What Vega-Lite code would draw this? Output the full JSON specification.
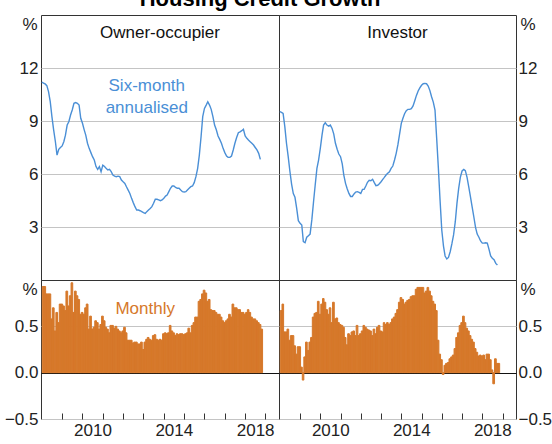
{
  "$schema": "https://vega.github.io/schema/vega-lite/v6.json",
  "padding": {"left": 3, "top": -13, "right": 0, "bottom": 0},
  "background": "white",
  "title": {"text": "Housing Credit Growth", "fontSize": 22, "fontWeight": "bold", "font": "Liberation Sans", "color": "#000", "anchor": "middle", "offset": 4, "dx": -18},
  "config": {
    "font": "Liberation Sans",
    "view": {"stroke": "#333", "strokeWidth": 1},
    "axis": {"labelFont": "Liberation Sans", "labelFontSize": 17, "labelColor": "#222", "titleFont": "Liberation Sans", "titleFontSize": 17, "titleFontWeight": "normal", "titleColor": "#222", "domain": false, "ticks": false, "gridColor": "#c4c4c4", "gridWidth": 1}
  },
  "datasets": {
    "d": [
      {"date":"2008-01-01","oo6":11.2,"inv6":9.53,"oom":0.93,"invm":0.67},
      {"date":"2008-02-01","oo6":11.15,"inv6":9.49,"oom":0.93,"invm":0.74},
      {"date":"2008-03-01","oo6":11.1,"inv6":9.43,"oom":0.85,"invm":0.44},
      {"date":"2008-04-01","oo6":11.0,"inv6":8.68,"oom":0.85,"invm":0.44},
      {"date":"2008-05-01","oo6":10.66,"inv6":7.74,"oom":0.85,"invm":0.47},
      {"date":"2008-06-01","oo6":10.1,"inv6":6.98,"oom":0.58,"invm":0.35},
      {"date":"2008-07-01","oo6":9.25,"inv6":6.17,"oom":0.70,"invm":0.40},
      {"date":"2008-08-01","oo6":8.5,"inv6":5.43,"oom":0.45,"invm":0.40},
      {"date":"2008-09-01","oo6":7.84,"inv6":4.89,"oom":0.65,"invm":0.29},
      {"date":"2008-10-01","oo6":7.07,"inv6":4.68,"oom":0.54,"invm":0.20},
      {"date":"2008-11-01","oo6":7.4,"inv6":4.06,"oom":0.74,"invm":0.28},
      {"date":"2008-12-01","oo6":7.5,"inv6":3.36,"oom":0.74,"invm":0.28},
      {"date":"2009-01-01","oo6":7.59,"inv6":3.21,"oom":0.72,"invm":0.06},
      {"date":"2009-02-01","oo6":7.84,"inv6":3.11,"oom":0.67,"invm":-0.08},
      {"date":"2009-03-01","oo6":8.2,"inv6":2.17,"oom":0.88,"invm":0.17},
      {"date":"2009-04-01","oo6":8.77,"inv6":2.11,"oom":0.72,"invm":0.33},
      {"date":"2009-05-01","oo6":8.96,"inv6":2.42,"oom":0.83,"invm":0.24},
      {"date":"2009-06-01","oo6":9.34,"inv6":2.51,"oom":0.97,"invm":0.33},
      {"date":"2009-07-01","oo6":9.62,"inv6":2.6,"oom":0.65,"invm":0.38},
      {"date":"2009-08-01","oo6":10.0,"inv6":3.4,"oom":0.88,"invm":0.60},
      {"date":"2009-09-01","oo6":10.04,"inv6":4.43,"oom":0.83,"invm":0.64},
      {"date":"2009-10-01","oo6":10.0,"inv6":5.38,"oom":0.79,"invm":0.65},
      {"date":"2009-11-01","oo6":9.9,"inv6":6.32,"oom":0.63,"invm":0.77},
      {"date":"2009-12-01","oo6":9.15,"inv6":6.79,"oom":0.65,"invm":0.63},
      {"date":"2010-01-01","oo6":8.87,"inv6":7.45,"oom":0.63,"invm":0.74},
      {"date":"2010-02-01","oo6":8.5,"inv6":8.2,"oom":0.70,"invm":0.80},
      {"date":"2010-03-01","oo6":8.2,"inv6":8.77,"oom":0.74,"invm":0.76},
      {"date":"2010-04-01","oo6":7.74,"inv6":8.9,"oom":0.47,"invm":0.68},
      {"date":"2010-05-01","oo6":7.45,"inv6":8.77,"oom":0.61,"invm":0.63},
      {"date":"2010-06-01","oo6":7.21,"inv6":8.71,"oom":0.47,"invm":0.70},
      {"date":"2010-07-01","oo6":6.98,"inv6":8.77,"oom":0.49,"invm":0.54},
      {"date":"2010-08-01","oo6":6.79,"inv6":8.58,"oom":0.56,"invm":0.76},
      {"date":"2010-09-01","oo6":6.42,"inv6":8.26,"oom":0.54,"invm":0.58},
      {"date":"2010-10-01","oo6":6.26,"inv6":7.74,"oom":0.47,"invm":0.59},
      {"date":"2010-11-01","oo6":6.42,"inv6":7.4,"oom":0.52,"invm":0.54},
      {"date":"2010-12-01","oo6":6.13,"inv6":7.13,"oom":0.61,"invm":0.52},
      {"date":"2011-01-01","oo6":6.5,"inv6":6.98,"oom":0.56,"invm":0.51},
      {"date":"2011-02-01","oo6":6.42,"inv6":6.57,"oom":0.49,"invm":0.49},
      {"date":"2011-03-01","oo6":6.32,"inv6":5.94,"oom":0.47,"invm":0.38},
      {"date":"2011-04-01","oo6":6.23,"inv6":5.47,"oom":0.43,"invm":0.30},
      {"date":"2011-05-01","oo6":6.26,"inv6":5.17,"oom":0.51,"invm":0.42},
      {"date":"2011-06-01","oo6":6.13,"inv6":4.9,"oom":0.51,"invm":0.40},
      {"date":"2011-07-01","oo6":5.94,"inv6":4.73,"oom":0.48,"invm":0.44},
      {"date":"2011-08-01","oo6":5.88,"inv6":4.73,"oom":0.50,"invm":0.45},
      {"date":"2011-09-01","oo6":5.85,"inv6":4.87,"oom":0.47,"invm":0.40},
      {"date":"2011-10-01","oo6":5.88,"inv6":4.98,"oom":0.45,"invm":0.51},
      {"date":"2011-11-01","oo6":5.85,"inv6":5.0,"oom":0.43,"invm":0.40},
      {"date":"2011-12-01","oo6":5.66,"inv6":4.96,"oom":0.45,"invm":0.42},
      {"date":"2012-01-01","oo6":5.56,"inv6":4.9,"oom":0.49,"invm":0.45},
      {"date":"2012-02-01","oo6":5.47,"inv6":5.13,"oom":0.43,"invm":0.51},
      {"date":"2012-03-01","oo6":5.28,"inv6":5.13,"oom":0.35,"invm":0.49},
      {"date":"2012-04-01","oo6":5.09,"inv6":5.32,"oom":0.35,"invm":0.47},
      {"date":"2012-05-01","oo6":4.9,"inv6":5.53,"oom":0.35,"invm":0.46},
      {"date":"2012-06-01","oo6":4.62,"inv6":5.64,"oom":0.32,"invm":0.45},
      {"date":"2012-07-01","oo6":4.38,"inv6":5.62,"oom":0.33,"invm":0.40},
      {"date":"2012-08-01","oo6":4.15,"inv6":5.7,"oom":0.33,"invm":0.47},
      {"date":"2012-09-01","oo6":3.96,"inv6":5.51,"oom":0.31,"invm":0.42},
      {"date":"2012-10-01","oo6":3.96,"inv6":5.34,"oom":0.31,"invm":0.49},
      {"date":"2012-11-01","oo6":3.92,"inv6":5.36,"oom":0.33,"invm":0.51},
      {"date":"2012-12-01","oo6":3.87,"inv6":5.45,"oom":0.25,"invm":0.45},
      {"date":"2013-01-01","oo6":3.81,"inv6":5.56,"oom":0.33,"invm":0.44},
      {"date":"2013-02-01","oo6":3.77,"inv6":5.7,"oom":0.36,"invm":0.54},
      {"date":"2013-03-01","oo6":3.87,"inv6":5.81,"oom":0.38,"invm":0.52},
      {"date":"2013-04-01","oo6":3.96,"inv6":5.94,"oom":0.36,"invm":0.54},
      {"date":"2013-05-01","oo6":4.05,"inv6":6.04,"oom":0.35,"invm":0.52},
      {"date":"2013-06-01","oo6":4.15,"inv6":6.13,"oom":0.40,"invm":0.54},
      {"date":"2013-07-01","oo6":4.34,"inv6":6.32,"oom":0.41,"invm":0.58},
      {"date":"2013-08-01","oo6":4.57,"inv6":6.45,"oom":0.36,"invm":0.60},
      {"date":"2013-09-01","oo6":4.57,"inv6":6.79,"oom":0.35,"invm":0.64},
      {"date":"2013-10-01","oo6":4.53,"inv6":7.17,"oom":0.36,"invm":0.68},
      {"date":"2013-11-01","oo6":4.49,"inv6":7.66,"oom":0.35,"invm":0.76},
      {"date":"2013-12-01","oo6":4.53,"inv6":8.26,"oom":0.42,"invm":0.81},
      {"date":"2014-01-01","oo6":4.62,"inv6":8.87,"oom":0.43,"invm":0.79},
      {"date":"2014-02-01","oo6":4.75,"inv6":9.17,"oom":0.42,"invm":0.74},
      {"date":"2014-03-01","oo6":4.81,"inv6":9.41,"oom":0.43,"invm":0.76},
      {"date":"2014-04-01","oo6":5.0,"inv6":9.58,"oom":0.51,"invm":0.78},
      {"date":"2014-05-01","oo6":5.19,"inv6":9.66,"oom":0.45,"invm":0.79},
      {"date":"2014-06-01","oo6":5.32,"inv6":9.66,"oom":0.43,"invm":0.82},
      {"date":"2014-07-01","oo6":5.32,"inv6":9.7,"oom":0.40,"invm":0.83},
      {"date":"2014-08-01","oo6":5.24,"inv6":9.85,"oom":0.42,"invm":0.83},
      {"date":"2014-09-01","oo6":5.19,"inv6":10.15,"oom":0.41,"invm":0.90},
      {"date":"2014-10-01","oo6":5.19,"inv6":10.45,"oom":0.42,"invm":0.92},
      {"date":"2014-11-01","oo6":5.09,"inv6":10.7,"oom":0.42,"invm":0.92},
      {"date":"2014-12-01","oo6":5.0,"inv6":10.87,"oom":0.41,"invm":0.92},
      {"date":"2015-01-01","oo6":4.98,"inv6":11.02,"oom":0.42,"invm":0.92},
      {"date":"2015-02-01","oo6":5.0,"inv6":11.11,"oom":0.43,"invm":0.86},
      {"date":"2015-03-01","oo6":5.09,"inv6":11.13,"oom":0.48,"invm":0.88},
      {"date":"2015-04-01","oo6":5.19,"inv6":11.11,"oom":0.43,"invm":0.92},
      {"date":"2015-05-01","oo6":5.28,"inv6":10.98,"oom":0.51,"invm":0.88},
      {"date":"2015-06-01","oo6":5.32,"inv6":10.72,"oom":0.54,"invm":0.83},
      {"date":"2015-07-01","oo6":5.51,"inv6":10.37,"oom":0.60,"invm":0.77},
      {"date":"2015-08-01","oo6":5.85,"inv6":10.07,"oom":0.60,"invm":0.74},
      {"date":"2015-09-01","oo6":6.32,"inv6":9.62,"oom":0.77,"invm":0.67},
      {"date":"2015-10-01","oo6":7.07,"inv6":8.02,"oom":0.79,"invm":0.35},
      {"date":"2015-11-01","oo6":8.11,"inv6":6.32,"oom":0.85,"invm":0.20},
      {"date":"2015-12-01","oo6":9.25,"inv6":4.53,"oom":0.89,"invm":0.14},
      {"date":"2016-01-01","oo6":9.71,"inv6":2.83,"oom":0.86,"invm":-0.02},
      {"date":"2016-02-01","oo6":9.9,"inv6":1.92,"oom":0.77,"invm":0.08},
      {"date":"2016-03-01","oo6":10.09,"inv6":1.36,"oom":0.79,"invm":0.10},
      {"date":"2016-04-01","oo6":9.9,"inv6":1.19,"oom":0.68,"invm":0.11},
      {"date":"2016-05-01","oo6":9.66,"inv6":1.28,"oom":0.67,"invm":0.15},
      {"date":"2016-06-01","oo6":9.25,"inv6":1.6,"oom":0.67,"invm":0.17},
      {"date":"2016-07-01","oo6":8.77,"inv6":2.04,"oom":0.65,"invm":0.19},
      {"date":"2016-08-01","oo6":8.5,"inv6":2.55,"oom":0.63,"invm":0.26},
      {"date":"2016-09-01","oo6":8.15,"inv6":3.3,"oom":0.63,"invm":0.38},
      {"date":"2016-10-01","oo6":7.96,"inv6":4.34,"oom":0.60,"invm":0.43},
      {"date":"2016-11-01","oo6":7.74,"inv6":5.19,"oom":0.56,"invm":0.51},
      {"date":"2016-12-01","oo6":7.45,"inv6":5.81,"oom":0.54,"invm":0.54},
      {"date":"2017-01-01","oo6":7.21,"inv6":6.17,"oom":0.56,"invm":0.61},
      {"date":"2017-02-01","oo6":7.02,"inv6":6.26,"oom":0.58,"invm":0.54},
      {"date":"2017-03-01","oo6":6.94,"inv6":6.19,"oom":0.63,"invm":0.48},
      {"date":"2017-04-01","oo6":6.94,"inv6":5.81,"oom":0.60,"invm":0.45},
      {"date":"2017-05-01","oo6":7.02,"inv6":5.28,"oom":0.74,"invm":0.40},
      {"date":"2017-06-01","oo6":7.36,"inv6":4.72,"oom":0.70,"invm":0.36},
      {"date":"2017-07-01","oo6":7.74,"inv6":4.15,"oom":0.70,"invm":0.33},
      {"date":"2017-08-01","oo6":8.07,"inv6":3.58,"oom":0.68,"invm":0.26},
      {"date":"2017-09-01","oo6":8.34,"inv6":2.98,"oom":0.68,"invm":0.22},
      {"date":"2017-10-01","oo6":8.39,"inv6":2.6,"oom":0.65,"invm":0.18},
      {"date":"2017-11-01","oo6":8.45,"inv6":2.42,"oom":0.65,"invm":0.19},
      {"date":"2017-12-01","oo6":8.53,"inv6":2.21,"oom":0.63,"invm":0.18},
      {"date":"2018-01-01","oo6":8.15,"inv6":2.09,"oom":0.65,"invm":0.19},
      {"date":"2018-02-01","oo6":8.02,"inv6":2.09,"oom":0.68,"invm":0.14},
      {"date":"2018-03-01","oo6":7.92,"inv6":2.11,"oom":0.65,"invm":0.20},
      {"date":"2018-04-01","oo6":7.83,"inv6":2.09,"oom":0.60,"invm":0.20},
      {"date":"2018-05-01","oo6":7.74,"inv6":1.75,"oom":0.58,"invm":0.14},
      {"date":"2018-06-01","oo6":7.64,"inv6":1.36,"oom":0.58,"invm":0.03},
      {"date":"2018-07-01","oo6":7.5,"inv6":1.23,"oom":0.56,"invm":-0.12},
      {"date":"2018-08-01","oo6":7.36,"inv6":1.15,"oom":0.54,"invm":0.15},
      {"date":"2018-09-01","oo6":7.17,"inv6":0.94,"oom":0.52,"invm":0.10},
      {"date":"2018-10-01","oo6":6.83,"inv6":0.85,"oom":0.47,"invm":0.10}
    ]
  },
  "data": {"name": "d"},
  "spacing": 0,
  "bounds": "flush",
  "columns": 2,
  "concat": [
    {
      "width": 238, "height": 265,
      "title": {"text": "Owner-occupier", "offset": -27, "fontSize": 17, "fontWeight": "normal", "color": "#111", "font": "Liberation Sans"},
      "layer": [
        {
          "mark": {"type": "line", "color": "#4a8fd6", "strokeWidth": 1.4},
          "encoding": {
            "x": {"field": "date", "type": "temporal", "scale": {"type": "utc", "domain": [{"year": 2007, "month": 12, "date": 18, "utc": true}, {"year": 2019, "month": 9, "date": 1, "utc": true}]}, "axis": null},
            "y": {"field": "oo6", "type": "quantitative", "scale": {"domain": [0, 15], "nice": false, "zero": false}, "axis": {"orient": "left", "values": [3, 6, 9, 12], "title": "%", "titleAngle": 0, "titleAlign": "right", "titleBaseline": "top", "titleX": -4, "titleY": 1, "labelPadding": 3, "grid": true}}
          }
        },
        {
          "transform": [{"filter": "utcyear(datum.date) == 2013 && utcmonth(datum.date) == 2"}],
          "mark": {"type": "text", "text": ["Six-month", "annualised"], "color": "#4a8fd6", "fontSize": 17, "lineHeight": 22, "font": "Liberation Sans"},
          "encoding": {
            "x": {"field": "date", "type": "temporal", "scale": {"type": "utc", "domain": [{"year": 2007, "month": 12, "date": 18, "utc": true}, {"year": 2019, "month": 9, "date": 1, "utc": true}]}, "axis": null},
            "y": {"datum": 11.0, "type": "quantitative"}
          }
        }
      ]
    },
    {
      "width": 237, "height": 265,
      "title": {"text": "Investor", "offset": -27, "fontSize": 17, "fontWeight": "normal", "color": "#111", "font": "Liberation Sans"},
      "mark": {"type": "line", "color": "#4a8fd6", "strokeWidth": 1.4},
      "encoding": {
        "x": {"field": "date", "type": "temporal", "scale": {"type": "utc", "domain": [{"year": 2007, "month": 12, "date": 18, "utc": true}, {"year": 2019, "month": 9, "date": 1, "utc": true}]}, "axis": null},
        "y": {"field": "inv6", "type": "quantitative", "scale": {"domain": [0, 15], "nice": false, "zero": false}, "axis": {"orient": "right", "values": [3, 6, 9, 12], "title": "%", "titleAngle": 0, "titleAlign": "left", "titleBaseline": "top", "titleX": 4, "titleY": 1, "labelPadding": 2, "grid": true}}
      }
    },
    {
      "width": 238, "height": 139,
      "layer": [
        {
          "mark": {"type": "bar", "color": "#d6782a", "binSpacing": 0, "stroke": "#d6782a", "strokeWidth": 1},
          "encoding": {
            "x": {"field": "date", "type": "temporal", "timeUnit": "utcyearmonth", "scale": {"type": "utc", "domain": [{"year": 2007, "month": 12, "date": 18, "utc": true}, {"year": 2019, "month": 9, "date": 1, "utc": true}]},
              "axis": {"orient": "bottom", "title": null, "grid": false, "ticks": true, "tickSize": -6, "tickColor": "#333", "values": [{"year": 2009, "month": 1, "date": 1, "utc": true}, {"year": 2010, "month": 1, "date": 1, "utc": true}, {"year": 2011, "month": 1, "date": 1, "utc": true}, {"year": 2012, "month": 1, "date": 1, "utc": true}, {"year": 2013, "month": 1, "date": 1, "utc": true}, {"year": 2014, "month": 1, "date": 1, "utc": true}, {"year": 2015, "month": 1, "date": 1, "utc": true}, {"year": 2016, "month": 1, "date": 1, "utc": true}, {"year": 2017, "month": 1, "date": 1, "utc": true}, {"year": 2018, "month": 1, "date": 1, "utc": true}, {"year": 2019, "month": 1, "date": 1, "utc": true}], "labelExpr": "utcyear(datum.value) % 4 == 2 ? utcFormat(datum.value, '%Y') : ''", "labelOffset": 10, "labelPadding": 9, "labelFlush": false, "labelOverlap": false}},
            "y": {"field": "oom", "type": "quantitative", "scale": {"domain": [-0.5, 1.0], "nice": false, "zero": false}, "axis": {"orient": "left", "values": [-0.5, 0, 0.5], "format": ".1f", "title": "%", "titleAngle": 0, "titleAlign": "right", "titleBaseline": "top", "titleX": -4, "titleY": 1, "labelPadding": 3, "grid": true, "gridColor": {"condition": {"test": "datum.value === 0", "value": "#111"}, "value": "#c4c4c4"}}}
          }
        },
        {
          "transform": [{"filter": "utcyear(datum.date) == 2013 && utcmonth(datum.date) == 1"}],
          "mark": {"type": "text", "text": "Monthly", "color": "#d6782a", "fontSize": 17, "font": "Liberation Sans"},
          "encoding": {
            "x": {"field": "date", "type": "temporal", "timeUnit": "utcyearmonth", "scale": {"type": "utc", "domain": [{"year": 2007, "month": 12, "date": 18, "utc": true}, {"year": 2019, "month": 9, "date": 1, "utc": true}]},
              "axis": {"orient": "bottom", "title": null, "grid": false, "ticks": true, "tickSize": -6, "tickColor": "#333", "values": [{"year": 2009, "month": 1, "date": 1, "utc": true}, {"year": 2010, "month": 1, "date": 1, "utc": true}, {"year": 2011, "month": 1, "date": 1, "utc": true}, {"year": 2012, "month": 1, "date": 1, "utc": true}, {"year": 2013, "month": 1, "date": 1, "utc": true}, {"year": 2014, "month": 1, "date": 1, "utc": true}, {"year": 2015, "month": 1, "date": 1, "utc": true}, {"year": 2016, "month": 1, "date": 1, "utc": true}, {"year": 2017, "month": 1, "date": 1, "utc": true}, {"year": 2018, "month": 1, "date": 1, "utc": true}, {"year": 2019, "month": 1, "date": 1, "utc": true}], "labelExpr": "utcyear(datum.value) % 4 == 2 ? utcFormat(datum.value, '%Y') : ''", "labelOffset": 10, "labelPadding": 9, "labelFlush": false, "labelOverlap": false}},
            "y": {"datum": 0.69, "type": "quantitative"}
          }
        }
      ]
    },
    {
      "width": 237, "height": 139,
      "mark": {"type": "bar", "color": "#d6782a", "binSpacing": 0, "stroke": "#d6782a", "strokeWidth": 1},
      "encoding": {
        "x": {"field": "date", "type": "temporal", "timeUnit": "utcyearmonth", "scale": {"type": "utc", "domain": [{"year": 2007, "month": 12, "date": 18, "utc": true}, {"year": 2019, "month": 9, "date": 1, "utc": true}]},
          "axis": {"orient": "bottom", "title": null, "grid": false, "ticks": true, "tickSize": -6, "tickColor": "#333", "values": [{"year": 2009, "month": 1, "date": 1, "utc": true}, {"year": 2010, "month": 1, "date": 1, "utc": true}, {"year": 2011, "month": 1, "date": 1, "utc": true}, {"year": 2012, "month": 1, "date": 1, "utc": true}, {"year": 2013, "month": 1, "date": 1, "utc": true}, {"year": 2014, "month": 1, "date": 1, "utc": true}, {"year": 2015, "month": 1, "date": 1, "utc": true}, {"year": 2016, "month": 1, "date": 1, "utc": true}, {"year": 2017, "month": 1, "date": 1, "utc": true}, {"year": 2018, "month": 1, "date": 1, "utc": true}, {"year": 2019, "month": 1, "date": 1, "utc": true}], "labelExpr": "utcyear(datum.value) % 4 == 2 ? utcFormat(datum.value, '%Y') : ''", "labelOffset": 10, "labelPadding": 9, "labelFlush": false, "labelOverlap": false}},
        "y": {"field": "invm", "type": "quantitative", "scale": {"domain": [-0.5, 1.0], "nice": false, "zero": false}, "axis": {"orient": "right", "values": [-0.5, 0, 0.5], "format": ".1f", "title": "%", "titleAngle": 0, "titleAlign": "left", "titleBaseline": "top", "titleX": 4, "titleY": 1, "labelPadding": 2, "grid": true, "gridColor": {"condition": {"test": "datum.value === 0", "value": "#111"}, "value": "#c4c4c4"}}}
      }
    }
  ]
}
